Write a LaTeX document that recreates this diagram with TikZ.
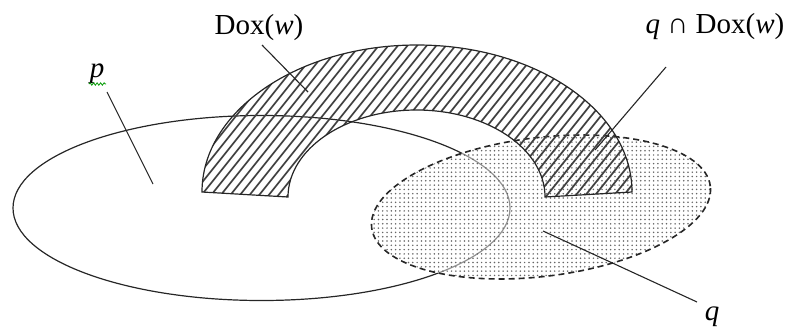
\documentclass[tikz,border=0pt]{standalone}
\usepackage{fontspec}
\setmainfont{Liberation Serif}
\usetikzlibrary{patterns.meta,decorations.pathmorphing}
\tikzdeclarepattern{name=qdots,type=uncolored,bottom left={(-1pt,-1pt)},top right={(1pt,1pt)},tile size={(4.3pt,4.3pt)},code={\fill (0,0) circle (0.85pt);}}
\tikzset{
  lbl/.style={font=\fontsize{29}{32}\selectfont,inner sep=0pt,anchor=base},
  leader/.style={draw=black!85,line width=1.1pt},
  outline/.style={draw=black!85,line width=1.2pt},
  hatchline/.style={draw=black!75,line width=1.7pt},
}
\begin{document}
\begin{tikzpicture}[x=1pt,y=-1pt]
\useasboundingbox (0,0) rectangle (791,327);
% set p
\draw[outline] (261.5,208) ellipse [x radius=248.5pt, y radius=92.5pt];
% set q fill
\fill[white,opacity=0.5,shift={(541,207)},rotate=7] (0,0) ellipse [x radius=170.6pt, y radius=69.4pt];
\fill[pattern=qdots,pattern color=black!60,shift={(541,207)},rotate=7] (0,0) ellipse [x radius=170.6pt, y radius=69.4pt];
\draw[draw=black!85,line width=1.6pt,dash pattern=on 6pt off 4pt,shift={(541,207)},rotate=7] (0,0) ellipse [x radius=170.6pt, y radius=69.4pt];
% Dox(w) arc
\begin{scope}
\clip (202,192) arc [start angle=180,end angle=0,x radius=215pt,y radius=147pt] -- (545,197) arc [start angle=0,end angle=180,x radius=128.5pt,y radius=87pt] -- cycle;
\foreach \i in {0,...,70} {
  \draw[hatchline] (\i*9.6+20,230) -- ++(200,-250);
}
\end{scope}
\draw[outline] (202,192) arc [start angle=180,end angle=0,x radius=215pt,y radius=147pt] -- (545,197) arc [start angle=0,end angle=180,x radius=128.5pt,y radius=87pt] -- cycle;
% labels
\node[lbl] (lp) at (97,77) {\textit{p}};
\draw[green!60!black,line width=0.8pt,decorate,decoration={snake,amplitude=1.2pt,segment length=3.5pt}] (89,84) -- (106,84);
\node[lbl] (ldox) at (259,34) {Dox(\textit{w})};
\node[lbl] (lqdox) at (715,33) {\textit{q} ∩ Dox(\textit{w})};
\node[lbl] (lq) at (712,320) {\textit{q}};
% leader lines
\coordinate (pa) at (107,92);
\coordinate (pb) at (153,184);
\coordinate (da) at (262,45);
\coordinate (db) at (308,92);
\coordinate (qda) at (666,67);
\coordinate (qdb) at (595,150);
\coordinate (qa) at (543,231);
\coordinate (qb) at (697,302);
\draw[leader] (pa) -- (pb);
\draw[leader] (da) -- (db);
\draw[leader] (qda) -- (qdb);
\draw[leader] (qa) -- (qb);
\end{tikzpicture}
\end{document}
